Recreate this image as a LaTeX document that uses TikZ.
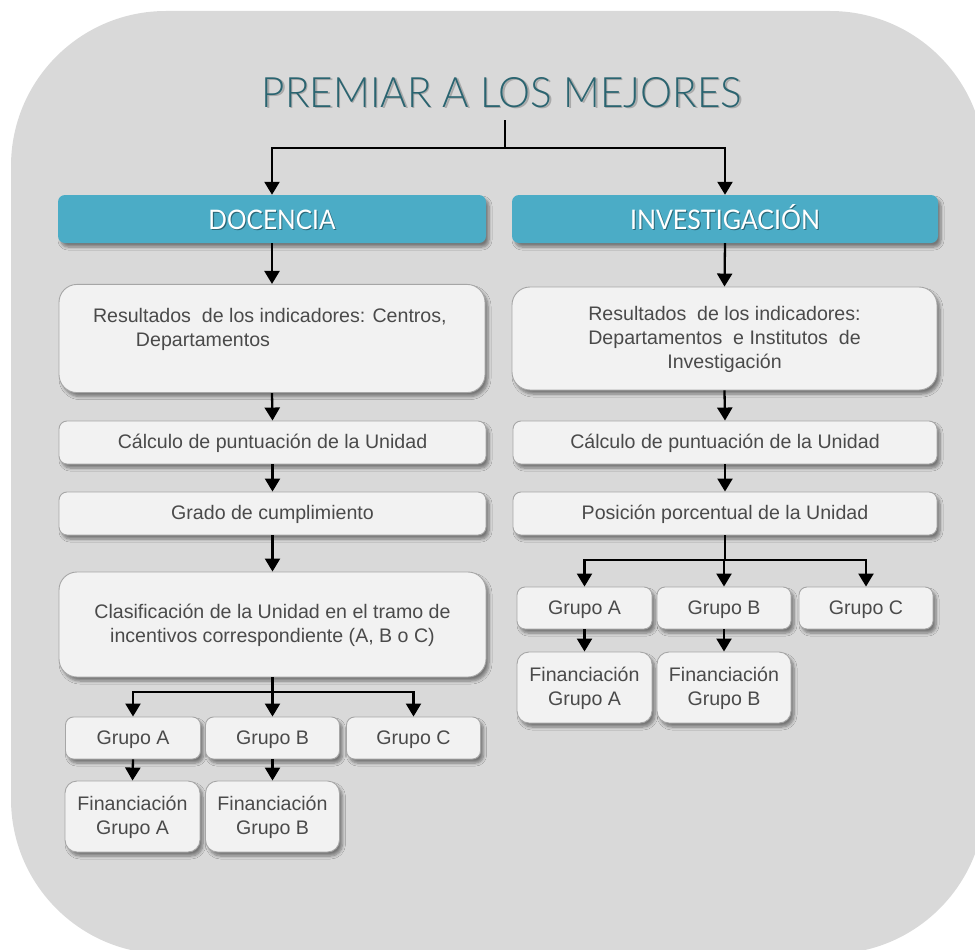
\documentclass[tikz,border=0pt]{standalone}
\usepackage{fontspec}
\setmainfont{Liberation Sans}
\newfontfamily\titlefont{Lato Light}
\newfontfamily\hdrfont{Lato}
\usetikzlibrary{arrows.meta,shadows.blur}
\definecolor{bg}{HTML}{D9D9D9}
\definecolor{hdr}{HTML}{4BACC6}
\definecolor{hdrsh}{HTML}{2A6676}
\definecolor{boxfill}{HTML}{F2F2F2}
\definecolor{boxline}{HTML}{A6A6A6}
\definecolor{txt}{HTML}{4A4A4A}
\definecolor{ttl}{HTML}{2A6470}
\newcommand{\shadowtext}[3]{\makebox[0pt][l]{\hspace*{#1}\raisebox{-#1}{\textcolor{#2}{#3}}}#3}
\begin{document}
\begin{tikzpicture}[x=1pt,y=-1pt,
  gbox/.style={draw=boxline, line width=0.9pt, fill=boxfill, text=txt,
    font=\fontsize{19.6}{24}\selectfont, align=center, inner sep=0pt, text depth=1.5pt,
    blur shadow={shadow xshift=3pt, shadow yshift=-4pt, shadow blur steps=6, shadow opacity=45, shadow blur radius=3pt}},
  hbox/.style={fill=hdr, rounded corners=7pt, inner sep=0pt, minimum height=48pt, text=white,
    text height=22pt, text depth=1.2pt,
    font=\hdrfont\fontsize{27}{27}\selectfont,
    blur shadow={shadow xshift=3pt, shadow yshift=-4pt, shadow blur steps=6, shadow opacity=45, shadow blur radius=3pt}},
  conn/.style={draw=black, line width=2.3pt},
  conna/.style={conn, -{Triangle[width=15pt,length=13pt]}}]
\useasboundingbox (0,0) rectangle (975,950);
\begin{scope}
\clip (0,0) rectangle (975,950);
\fill[bg, rounded corners=155pt] (11,11) rectangle (985,954);
\end{scope}
% title
\node[inner sep=0pt, text=ttl, font=\titlefont\fontsize{42}{42}\selectfont] (title) at (502,93)
  {\resizebox{480pt}{30pt}{\shadowtext{1.6pt}{black!22!bg}{PREMIAR A LOS MEJORES}}};
% headers
\node[hbox, minimum width=428pt] (doc) at (272,219)
  {\resizebox{127pt}{19.5pt}{\shadowtext{1.2pt}{hdrsh}{DOCENCIA}}};
\node[hbox, minimum width=426pt] (inv) at (725,219)
  {\resizebox{190pt}{25pt}{\shadowtext{1.2pt}{hdrsh}{INVESTIGACIÓN}}};
% left column
\node[gbox, rounded corners=18pt, minimum width=426pt, minimum height=103pt, text depth=51.5pt] (lres) at (272,338.5)
  {\begin{minipage}[c][103pt][t]{426pt}\raggedright\vspace*{23.5pt}\hspace*{34pt}Resultados~ de los indicadores: Centros,\\\hspace*{77pt}Departamentos\end{minipage}};
\node[gbox, rounded corners=8pt, minimum width=427pt, minimum height=43pt] (lcal) at (272.5,442.5) {Cálculo de puntuación de la Unidad};
\node[gbox, rounded corners=8pt, minimum width=427pt, minimum height=43pt] (lgra) at (272.5,513.5) {Grado de cumplimiento};
\node[gbox, rounded corners=18pt, minimum width=427pt, minimum height=105pt] (lcla) at (272.5,624.5) {Clasificación de la Unidad en el tramo de\\incentivos correspondiente (A, B o C)};
\node[gbox, rounded corners=8pt, minimum width=135pt, minimum height=42pt] (lga) at (133,738) {Grupo A};
\node[gbox, rounded corners=8pt, minimum width=134pt, minimum height=42pt] (lgb) at (272.5,738) {Grupo B};
\node[gbox, rounded corners=8pt, minimum width=134pt, minimum height=42pt] (lgc) at (413.5,738) {Grupo C};
\node[gbox, rounded corners=12pt, minimum width=135pt, minimum height=71pt] (lfa) at (132.5,816.5) {Financiación\\Grupo A};
\node[gbox, rounded corners=12pt, minimum width=134pt, minimum height=71pt] (lfb) at (272.5,816.5) {Financiación\\Grupo B};
% right column
\node[gbox, rounded corners=18pt, minimum width=425pt, minimum height=103pt] (rres) at (724.5,338.5)
  {Resultados~ de los indicadores:\\Departamentos~ e Institutos~ de\\Investigación};
\node[gbox, rounded corners=8pt, minimum width=424pt, minimum height=43pt] (rcal) at (725,442.5) {Cálculo de puntuación de la Unidad};
\node[gbox, rounded corners=8pt, minimum width=424pt, minimum height=43pt] (rpos) at (725,513.5) {Posición porcentual de la Unidad};
\node[gbox, rounded corners=8pt, minimum width=135pt, minimum height=42pt] (rga) at (584.5,608) {Grupo A};
\node[gbox, rounded corners=8pt, minimum width=134pt, minimum height=42pt] (rgb) at (724,608) {Grupo B};
\node[gbox, rounded corners=8pt, minimum width=134pt, minimum height=42pt] (rgc) at (866,608) {Grupo C};
\node[gbox, rounded corners=12pt, minimum width=135pt, minimum height=71pt] (rfa) at (584.5,687.5) {Financiación\\Grupo A};
\node[gbox, rounded corners=12pt, minimum width=134pt, minimum height=71pt] (rfb) at (724,687.5) {Financiación\\Grupo B};
% connectors
\coordinate (ts) at (505,120);
\coordinate (tj) at (505,148);
\draw[conn] (ts) -- (tj);
\draw[conna] (tj) -| (doc.north);
\draw[conna] (tj) -| (inv.north);
\draw[conna] (doc.south) -- (lres.north);
\draw[conna] (lres.south) -- (lcal.north);
\draw[conna] (lcal.south) -- (lgra.north);
\draw[conna] (lgra.south) -- (lcla.north);
\coordinate (lj) at (272.5,692);
\draw[conn] (lcla.south) -- (lj);
\draw[conna] (lj) -| (lga.north);
\draw[conna] (lj) -| (lgc.north);
\draw[conna] (lj) -- (lgb.north);
\draw[conna] (lga.south) -- (lfa.north);
\draw[conna] (lgb.south) -- (lfb.north);
\draw[conna] (inv.south) -- (rres.north);
\draw[conna] (rres.south) -- (rcal.north);
\draw[conna] (rcal.south) -- (rpos.north);
\coordinate (rj) at (725,560);
\draw[conn] (rpos.south) -- (rj);
\draw[conna] (rj) -| (rga.north);
\draw[conna] (rj) -| (rgc.north);
\draw[conna] (rj) -| (rgb.north);
\draw[conna] (rga.south) -- (rfa.north);
\draw[conna] (rgb.south) -- (rfb.north);
\end{tikzpicture}
\end{document}
